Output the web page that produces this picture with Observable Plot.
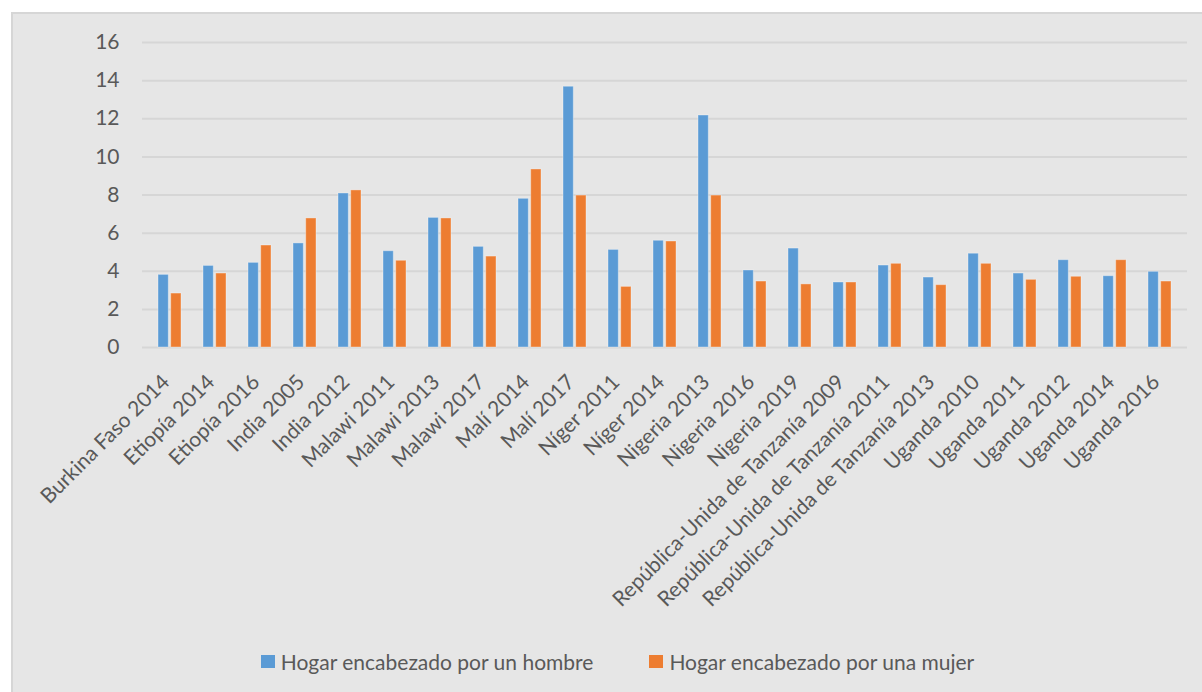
<!DOCTYPE html>
<html>
<head>
<meta charset="utf-8">
<script src="https://cdn.jsdelivr.net/npm/d3@7"></script>
<script src="https://cdn.jsdelivr.net/npm/@observablehq/plot@0.6"></script>
<style>
  html, body { margin: 0; padding: 0; background: #ffffff; }
  #wrap { position: relative; width: 1202px; height: 692px; overflow: hidden; font-family: Lato, "Open Sans", sans-serif; }
  #panel { position: absolute; left: 11px; top: 12px; width: 1191px; height: 680px; box-sizing: border-box;
           background: #e6e6e6; border-left: 2px solid #d6d6d6; border-top: 2px solid #d6d6d6; }
  #chart { position: absolute; left: 11px; top: 12px; }
  #legend { position: absolute; left: 11px; width: 1191px; top: 648px; height: 26px; display: flex; justify-content: center;
            align-items: center; gap: 56px; padding-left: 22px; box-sizing: border-box; }
  .item { display: flex; align-items: center; gap: 6px; font-size: 21px; color: #595959; white-space: nowrap; }
  .sw { width: 14px; height: 13px; display: inline-block; }
</style>
</head>
<body>
<div id="wrap">
  <div id="panel"></div>
  <div id="chart"></div>
  <div id="legend"></div>
</div>
<script>
const categories = [
  "Burkina Faso 2014", "Etiopía 2014", "Etiopía 2016", "India 2005", "India 2012",
  "Malawi 2011", "Malawi 2013", "Malawi 2017", "Malí 2014", "Malí 2017",
  "Níger 2011", "Níger 2014", "Nigeria 2013", "Nigeria 2016", "Nigeria 2019",
  "República-Unida de Tanzanía 2009", "República-Unida de Tanzanía 2011", "República-Unida de Tanzanía 2013",
  "Uganda 2010", "Uganda 2011", "Uganda 2012", "Uganda 2014", "Uganda 2016"
];
const hombre = [3.81, 4.28, 4.44, 5.46, 8.08, 5.05, 6.80, 5.28, 7.80, 13.68, 5.12, 5.60, 12.17, 4.04, 5.19, 3.41, 4.30, 3.67, 4.92, 3.88, 4.58, 3.74, 3.97];
const mujer  = [2.83, 3.88, 5.35, 6.77, 8.24, 4.55, 6.77, 4.77, 9.34, 7.97, 3.18, 5.56, 7.97, 3.46, 3.31, 3.41, 4.39, 3.27, 4.39, 3.55, 3.71, 4.58, 3.46];
const seriesNames = ["Hogar encabezado por un hombre", "Hogar encabezado por una mujer"];
const seriesColors = ["#5b9bd5", "#ed7d31"];
const yTicks = [0, 2, 4, 6, 8, 10, 12, 14, 16];

const rowsH = categories.map((c, i) => ({cat: c, v: hombre[i], serie: seriesNames[0]}));
const rowsM = categories.map((c, i) => ({cat: c, v: mujer[i], serie: seriesNames[1]}));

const textColor = "#595959";
const chart = Plot.plot({
  width: 1191,
  height: 620,
  marginLeft: 131,
  marginRight: 15,
  marginTop: 30,
  marginBottom: 285,
  style: {background: "transparent", fontFamily: "Lato, 'Open Sans', sans-serif", color: textColor},
  x: {domain: categories, type: "band", paddingInner: 0.485, paddingOuter: 0.2425, axis: null},
  y: {domain: [0, 16], axis: null},
  color: {domain: seriesNames, range: seriesColors},
  marks: [
    Plot.gridY(yTicks, {stroke: "#d6d6d6", strokeOpacity: 1, strokeWidth: 2}),
    Plot.axisY(yTicks, {tickSize: 0, tickPadding: 23, fontSize: 21, fill: textColor, label: null}),
    Plot.barY(rowsH, {x: "cat", y: "v", fill: "serie", insetRight: 12.7, stroke: "#ffffff", strokeOpacity: 0.35, strokeWidth: 1}),
    Plot.barY(rowsM, {x: "cat", y: "v", fill: "serie", insetLeft: 12.7, stroke: "#ffffff", strokeOpacity: 0.35, strokeWidth: 1}),
    Plot.text(categories, {x: d => d, frameAnchor: "bottom", rotate: -45, textAnchor: "end", lineAnchor: "middle",
      dx: -4, dy: 31, fontSize: 21, fill: textColor})
  ]
});
document.getElementById("chart").appendChild(chart);

const legend = document.getElementById("legend");
seriesNames.forEach((name, i) => {
  const item = document.createElement("div");
  item.className = "item";
  const sw = document.createElement("span");
  sw.className = "sw";
  sw.style.background = seriesColors[i];
  const t = document.createElement("span");
  t.textContent = name;
  item.appendChild(sw);
  item.appendChild(t);
  legend.appendChild(item);
});
</script>
</body>
</html>
